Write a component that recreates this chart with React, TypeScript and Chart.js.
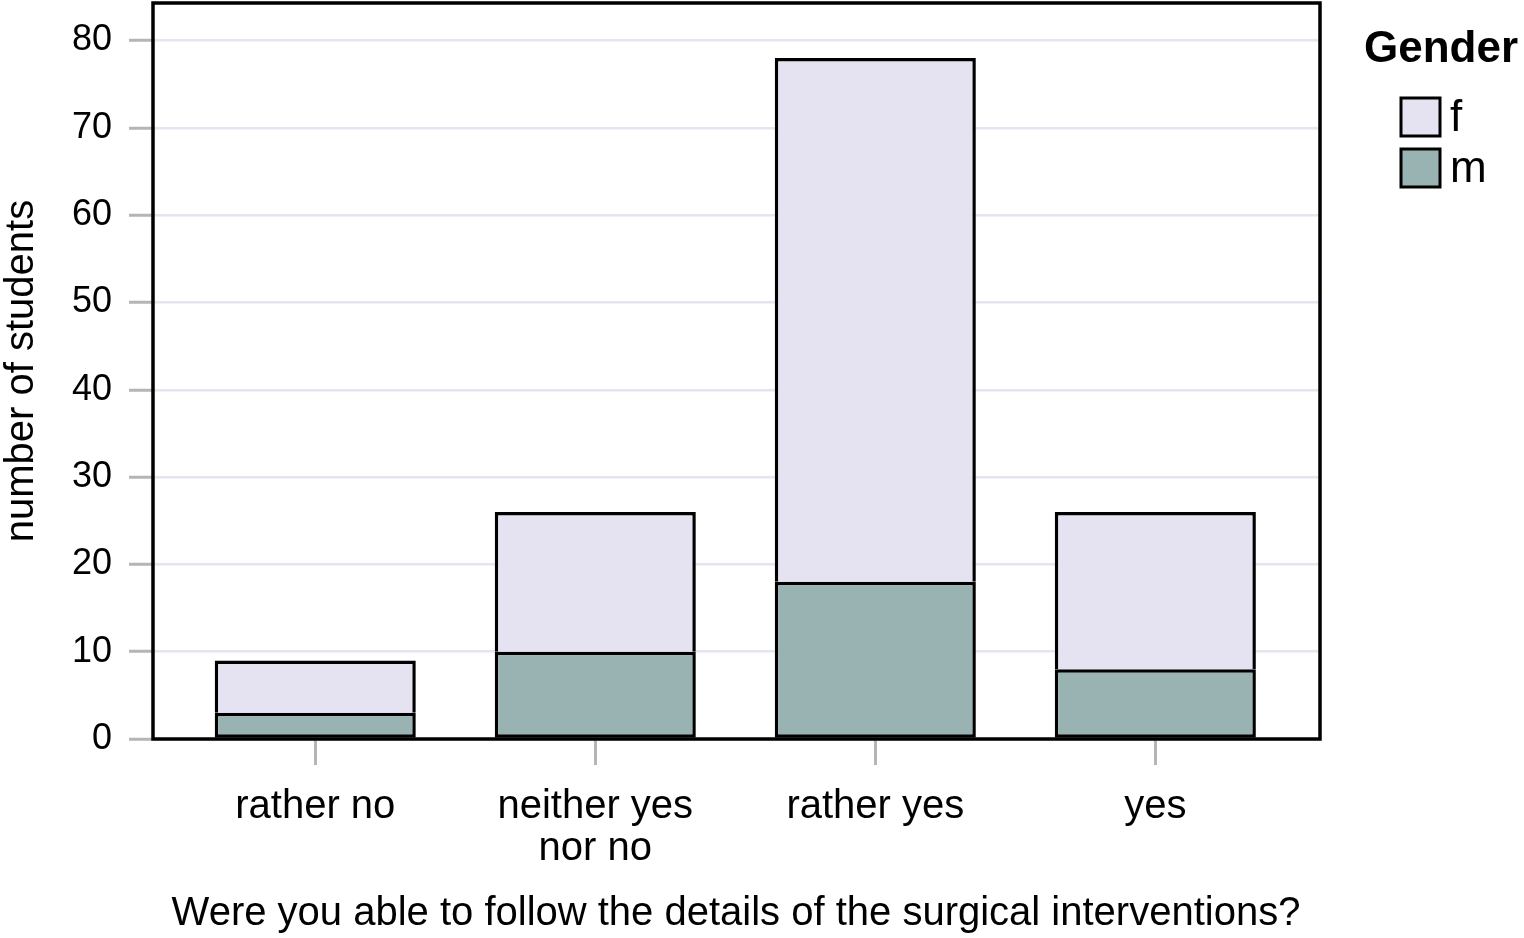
import React, { useEffect, useRef } from "react";
import { Chart, registerables } from "chart.js";

Chart.register(...registerables);

const categories: (string | string[])[] = ["rather no", ["neither yes", "nor no"], "rather yes", "yes"];
const maleValues = [3, 10, 18, 8];
const femaleValues = [6, 16, 60, 18];
const yTicks = [0, 10, 20, 30, 40, 50, 60, 70, 80];
const legendTitle = "Gender";
const seriesNames = ["f", "m"];

const FONT = "'Liberation Sans', Arial, Helvetica, sans-serif";
const F_COLOR = "#e5e3f1";
const M_COLOR = "#99b3b2";
const GRID_COLOR = "#e6e4f2";
const TICK_COLOR = "#b5b5b5";

const framePlugin = {
  id: "frameAndLegend",
  afterDraw(chart: any) {
    const { ctx, chartArea } = chart;
    ctx.save();
    ctx.strokeStyle = "#000";
    ctx.lineWidth = 3.5;
    ctx.strokeRect(chartArea.left + 1, chartArea.top, chartArea.right - chartArea.left - 1, chartArea.bottom - chartArea.top);

    // legend
    ctx.fillStyle = "#000";
    ctx.font = `bold 44px ${FONT}`;
    ctx.textAlign = "left";
    ctx.textBaseline = "middle";
    ctx.fillText(legendTitle, 1364, 50);
    const colors = [F_COLOR, M_COLOR];
    seriesNames.forEach((name, i) => {
      const y = 97 + i * 51;
      ctx.fillStyle = colors[i];
      ctx.fillRect(1400, y, 41, 40);
      ctx.strokeStyle = "#000";
      ctx.lineWidth = 3;
      ctx.strokeRect(1401, y + 1, 39, 38);
      ctx.fillStyle = "#000";
      ctx.font = `44px ${FONT}`;
      ctx.textBaseline = "middle";
      ctx.fillText(name, 1450, y + 22);
    });
    ctx.restore();
  },
};

export default function App() {
  const ref = useRef<HTMLCanvasElement>(null);
  useEffect(() => {
    if (!ref.current) return;
    const chart = new Chart(ref.current, {
      type: "bar",
      data: {
        datasets: [
          {
            label: "m",
            data: maleValues.map((v, i) => ({ x: i, y: v })),
            backgroundColor: M_COLOR,
            borderColor: "#000",
            borderWidth: 3.5,
            borderSkipped: false,
            barPercentage: 0.718,
            categoryPercentage: 1,
          },
          {
            label: "f",
            data: femaleValues.map((v, i) => ({ x: i, y: v })),
            backgroundColor: F_COLOR,
            borderColor: "#000",
            borderWidth: 3.5,
            borderSkipped: "bottom",
            barPercentage: 0.718,
            categoryPercentage: 1,
          },
        ],
      },
      options: {
        responsive: false,
        animation: false,
        devicePixelRatio: 1,
        layout: { padding: { top: 3, right: 204, left: 0, bottom: 0 } },
        plugins: { legend: { display: false }, tooltip: { enabled: false } },
        scales: {
          x: {
            type: "linear",
            stacked: true,
            offset: false,
            min: -0.583,
            max: 3.588,
            afterBuildTicks(scale: any) {
              scale.ticks = categories.map((_, i) => ({ value: i }));
            },
            grid: {
              offset: false,
              drawOnChartArea: false,
              tickLength: 26,
              tickColor: TICK_COLOR,
              tickWidth: 3,
            },
            border: { display: false },
            ticks: {
              color: "#000",
              padding: 21,
              maxRotation: 0,
              autoSkip: false,
              font: { family: FONT, size: 40, lineHeight: 1.05 },
              callback: (value: any) => categories[Math.round(Number(value))] as any,
            },
            title: {
              display: true,
              text: "Were you able to follow the details of the surgical interventions?",
              color: "#000",
              font: { family: FONT, size: 40, lineHeight: 1.2 },
              padding: { top: 0, bottom: 0 },
            },
            afterFit(scale: any) {
              scale.height = 199;
              scale.paddingLeft = 0;
              scale.paddingRight = 0;
            },
          },
          y: {
            stacked: true,
            min: 0,
            max: 84.3,
            afterBuildTicks(scale: any) {
              scale.ticks = yTicks.map((v) => ({ value: v }));
            },
            grid: {
              color: GRID_COLOR,
              lineWidth: 2.5,
              tickLength: 23,
              tickColor: TICK_COLOR,
              tickWidth: 3,
            },
            border: { display: false },
            ticks: {
              color: "#000",
              padding: 17,
              font: { family: FONT, size: 36 },
            },
            title: {
              display: true,
              text: "number of students",
              color: "#000",
              font: { family: FONT, size: 40, lineHeight: 1.1 },
              padding: { top: 0, bottom: 0 },
            },
            afterFit(scale: any) {
              scale.width = 152;
              scale.paddingTop = 0;
              scale.paddingBottom = 0;
            },
          },
        },
      } as any,
      plugins: [framePlugin],
    });
    return () => chart.destroy();
  }, []);
  return (
    <div style={{ position: "absolute", left: 0, top: 0, width: 1524, height: 938, background: "#fff" }}>
      <canvas ref={ref} width={1524} height={938} style={{ width: 1524, height: 938, display: "block" }} />
    </div>
  );
}
